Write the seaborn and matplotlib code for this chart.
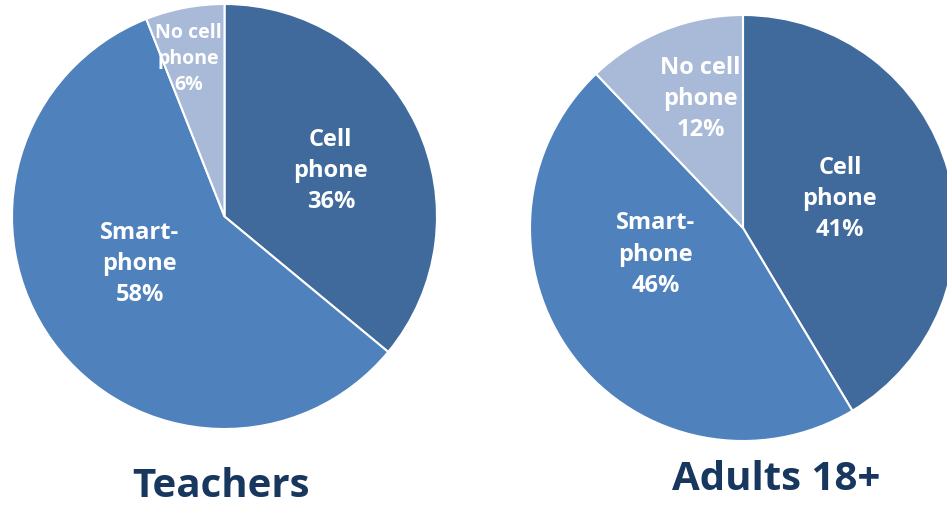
import matplotlib
matplotlib.use("Agg")
import matplotlib.pyplot as plt
import seaborn as sns

categories = ["Cell\nphone", "Smart-\nphone", "No cell\nphone"]
teachers = [36, 58, 6]
adults = [41, 46, 12]
titles = ["Teachers", "Adults 18+"]

sns.set_style("white")
plt.rcParams["font.family"] = ["Open Sans", "DejaVu Sans"]

colors = ["#3F6A9B", "#4F81BD", "#A9BAD8"]

W, H = 947, 506
fig = plt.figure(figsize=(W / 100, H / 100), dpi=100)

# pixel layout: centre x, centre y, radius
layout = [(224.5, 217.5, 212.5), (743, 229, 213)]
label_pos = [
    [(0.50, 0.22), (-0.40, -0.22), (-0.17, 0.745)],
    [(0.455, 0.14), (-0.41, -0.12), (-0.20, 0.61)],
]
label_size = [[17, 17, 14], [17, 17, 17]]
title_pos = [(221, 487), (776, 480)]

for i, vals in enumerate([teachers, adults]):
    cx, cy, r = layout[i]
    ax = fig.add_axes([(cx - r) / W, (H - cy - r) / H, 2 * r / W, 2 * r / H])
    ax.pie(vals, colors=colors, startangle=90, counterclock=False,
           wedgeprops=dict(edgecolor="white", linewidth=1.5), radius=1)
    ax.set_xlim(-1, 1)
    ax.set_ylim(-1, 1)
    ax.set_aspect("equal")
    ax.axis("off")
    for (x, y), cat, v, fs in zip(label_pos[i], categories, vals, label_size[i]):
        ax.text(x, y, f"{cat}\n{v}%", ha="center", va="center", color="white",
                fontsize=fs, fontweight="bold", linespacing=1.4)
    tx, ty = title_pos[i]
    fig.text(tx / W, 1 - ty / H, titles[i], ha="center", va="center",
             fontsize=29, fontweight="bold", color="#17375E")

fig.savefig("out.png", dpi=100)
